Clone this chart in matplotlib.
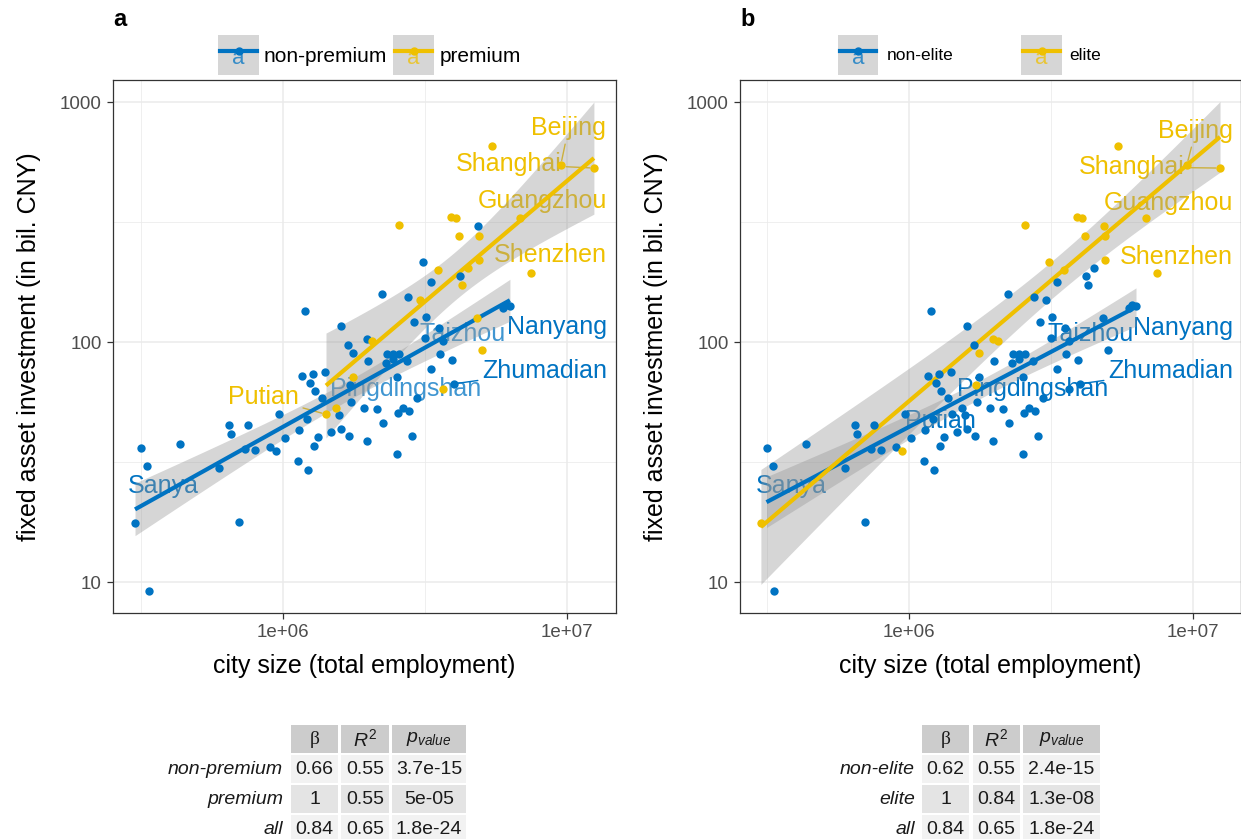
import matplotlib

matplotlib.use("Agg")
import matplotlib.pyplot as plt
import numpy as np
from matplotlib.lines import Line2D
from matplotlib.patches import Rectangle
from matplotlib.ticker import FixedLocator, NullFormatter

plt.rcParams["font.family"] = ["Liberation Sans", "DejaVu Sans"]
plt.rcParams["mathtext.fontset"] = "custom"
plt.rcParams["mathtext.it"] = "Liberation Sans:italic"
plt.rcParams["mathtext.rm"] = "Liberation Sans"

W, H = 1241, 839
BLUE, YELLOW = "#0073C2", "#EFC000"
RIBBON = "#999999"

# --- cities: total employment (millions), fixed asset investment (bil. CNY)
employment_m = [
    0.315, 0.333, 0.434, 0.301, 0.336, 0.698, 0.594, 0.647, 0.656, 0.755,
    0.735, 0.797, 0.900, 0.945, 0.970, 1.014, 1.132, 1.228, 1.141, 1.212,
    1.286, 1.331, 1.164, 1.278, 1.409, 1.245, 1.296, 1.372, 1.195, 1.472,
    1.597, 1.575, 1.712, 1.981, 1.730, 1.932, 2.148, 2.255, 2.514, 2.839,
    2.547, 2.652, 2.778, 2.956, 2.514, 1.721, 1.764, 1.698, 1.601, 1.970,
    1.997, 2.318, 2.433, 2.568, 2.305, 2.433, 2.740, 2.232, 2.755, 2.892,
    3.180, 3.542, 3.162, 3.650, 3.572, 3.946, 3.312, 4.010, 6.10, 6.30,
    5.94, 3.119, 3.312, 4.190, 4.873,
    1.417, 1.537, 1.760, 2.053, 3.668, 3.037, 4.809, 5.008, 3.523, 4.493,
    4.898, 4.258, 7.45, 2.568, 3.895, 4.065, 4.177, 4.898, 6.83, 5.457,
    9.52, 12.45,
]
investment_bn = [
    36.3, 30.4, 37.5, 17.6, 9.17, 17.8, 29.8, 45.1, 41.2, 45.1,
    35.7, 35.4, 36.5, 35.2, 50.0, 39.9, 31.9, 29.2, 43.1, 47.6,
    36.9, 40.2, 72.4, 73.3, 74.8, 67.5, 62.5, 58.6, 135.0, 42.3,
    43.4, 49.5, 40.5, 38.7, 56.2, 53.1, 52.7, 46.0, 34.2, 40.6,
    50.6, 53.3, 51.6, 58.2, 71.5, 66.0, 89.7, 97.2, 116.6, 102.6,
    83.3, 88.9, 88.9, 88.9, 82.0, 84.7, 83.3, 158.9, 153.6, 121.5,
    127.1, 114.4, 103.6, 101.0, 88.9, 84.4, 77.2, 67.0, 142.6, 140.8,
    138.9, 216.2, 177.8, 188.9, 303.5,
    50.0, 52.9, 71.7, 101.0, 63.9, 149.2, 125.5, 92.3, 199.0, 204.0,
    219.0, 172.3, 194.3, 307.3, 332.7, 327.6, 276.5, 276.5, 329.6, 655.5,
    549.0, 530.9,
]
is_premium = [0] * 75 + [1] * 22
is_elite = (
    [0, 0, 0, 1, 0, 0, 0, 0, 0, 0, 0, 0, 0, 1, 0, 0, 0, 0, 0, 0,
     0, 0, 0, 0, 0, 0, 0, 0, 0, 0, 0, 0, 0, 0, 0, 0, 0, 0, 0, 0,
     0, 0, 0, 0, 0, 1, 1, 0, 0, 1, 0, 0, 0, 0, 0, 0, 0, 0, 0, 0,
     0, 0, 0, 0, 0, 0, 0, 0, 0, 0, 0, 1, 0, 0, 1]
    + [0, 0, 0, 1, 0, 0, 0, 0, 1, 0, 1, 0, 1, 1, 1, 1, 1, 1, 1, 1, 1, 1]
)
named = {"Zhumadian": 67, "Putian": 75, "Beijing": 95, "Shanghai": 96}

emp = np.array(employment_m) * 1e6
inv = np.array(investment_bn)

# scaling-law summary tables
rows_a = ["non-premium", "premium", "all"]
beta_a = ["0.66", "1", "0.84"]
r2_a = ["0.55", "0.55", "0.65"]
p_a = ["3.7e-15", "5e-05", "1.8e-24"]
rows_b = ["non-elite", "elite", "all"]
beta_b = ["0.62", "1", "0.84"]
r2_b = ["0.55", "0.84", "0.65"]
p_b = ["2.4e-15", "1.3e-08", "1.8e-24"]


def t_quantile(df, z=1.959964):
    # Cornish-Fisher expansion of Student's t 97.5% quantile
    return (z + (z**3 + z) / (4 * df)
            + (5 * z**5 + 16 * z**3 + 3 * z) / (96 * df**2)
            + (3 * z**7 + 19 * z**5 + 17 * z**3 - 15 * z) / (384 * df**3))


def lm_band(x, y, n_grid=80):
    lx, ly = np.log10(x), np.log10(y)
    n = len(lx)
    slope, icept = np.polyfit(lx, ly, 1)
    resid = ly - (icept + slope * lx)
    s = np.sqrt(resid @ resid / (n - 2))
    gx = np.linspace(lx.min(), lx.max(), n_grid)
    se = s * np.sqrt(1 / n + (gx - lx.mean()) ** 2 / ((lx - lx.mean()) ** 2).sum())
    fit = icept + slope * gx
    t = t_quantile(n - 2)
    return 10**gx, 10**fit, 10**(fit - t * se), 10**(fit + t * se)


def fpos(x, y):
    return x / W, 1 - y / H


fig = plt.figure(figsize=(W / 100, H / 100), dpi=100)


def panel(box, xlog, flag, labels):
    x0, x1, y0, y1 = box
    ax = fig.add_axes([x0 / W, 1 - y1 / H, (x1 - x0) / W, (y1 - y0) / H])
    ax.set_xscale("log")
    ax.set_yscale("log")
    ax.set_xlim(10 ** xlog[0], 10 ** xlog[1])
    ax.set_ylim(10**0.871, 10**3.092)
    ax.xaxis.set_major_locator(FixedLocator([1e6, 1e7]))
    ax.xaxis.set_minor_locator(FixedLocator([10**5.5, 10**6.5]))
    ax.yaxis.set_major_locator(FixedLocator([10, 100, 1000]))
    ax.yaxis.set_minor_locator(FixedLocator([10**1.5, 10**2.5]))
    ax.set_xticklabels(["1e+06", "1e+07"])
    ax.set_yticklabels(["10", "100", "1000"])
    ax.xaxis.set_minor_formatter(NullFormatter())
    ax.yaxis.set_minor_formatter(NullFormatter())
    ax.tick_params(which="major", length=4, width=0.9, color="#333333",
                   labelsize=13.5, labelcolor="#4d4d4d", pad=4)
    ax.tick_params(which="minor", length=0)
    ax.grid(which="major", color="#ebebeb", lw=1.1, zorder=0)
    ax.grid(which="minor", color="#ebebeb", lw=0.55, zorder=0)
    ax.set_axisbelow(True)
    for sp in ax.spines.values():
        sp.set_color("#333333")
        sp.set_linewidth(0.9)
    ax.set_xlabel("city size (total employment)", fontsize=18, labelpad=9)
    ax.set_ylabel("fixed asset investment (in bil. CNY)", fontsize=18,
                  labelpad=14)

    grp = np.array(flag, bool)
    for mask, color in ((~grp, BLUE), (grp, YELLOW)):
        gx, fit, lo, hi = lm_band(emp[mask], inv[mask])
        ax.fill_between(gx, lo, hi, color=RIBBON, alpha=0.4, lw=0, zorder=2)
        ax.plot(gx, fit, color=color, lw=3, zorder=3, solid_capstyle="butt")
    for mask, color in ((~grp, BLUE), (grp, YELLOW)):
        ax.scatter(emp[mask], inv[mask], s=36, color=color, lw=0, zorder=4)

    for name, px, py, ha, yellow, alpha in labels:
        color = YELLOW if yellow else BLUE
        kw = dict(xytext=(px, H - py), textcoords="figure pixels", ha=ha,
                  va="center", fontsize=18, color=color, alpha=alpha,
                  zorder=1.5)
        if name in named:
            i = named[name]
            ax.annotate(name, xy=(emp[i], inv[i]), xycoords="data",
                        arrowprops=dict(arrowstyle="-", color=color, lw=1.0,
                                        alpha=alpha, shrinkA=1, shrinkB=3),
                        **kw)
        else:
            ax.annotate(name, xy=(px, H - py), xycoords="figure pixels", **kw)
    return ax


labels_a = [
    ("Beijing", 606, 128, "right", 1, 1.0),
    ("Shanghai", 562, 164, "right", 1, 1.0),
    ("Guangzhou", 607, 201, "right", 1, 1.0),
    ("Shenzhen", 607, 255, "right", 1, 1.0),
    ("Nanyang", 607, 327, "right", 0, 1.0),
    ("Taizhou", 420, 334, "left", 0, 0.75),
    ("Zhumadian", 607, 371, "right", 0, 1.0),
    ("Pingdingshan", 330, 389, "left", 0, 0.75),
    ("Putian", 228, 397, "left", 1, 1.0),
    ("Sanya", 128, 486, "left", 0, 1.0),
]
labels_b = [
    ("Beijing", 1233, 131, "right", 1, 1.0),
    ("Shanghai", 1079, 167, "left", 1, 1.0),
    ("Guangzhou", 1233, 203, "right", 1, 1.0),
    ("Shenzhen", 1233, 257, "right", 1, 1.0),
    ("Nanyang", 1233, 328, "right", 0, 1.0),
    ("Taizhou", 1048, 334, "left", 0, 1.0),
    ("Zhumadian", 1233, 371, "right", 0, 1.0),
    ("Pingdingshan", 957, 389, "left", 0, 1.0),
    ("Putian", 905, 421, "left", 0, 1.0),
    ("Sanya", 756, 486, "left", 0, 1.0),
]

panel((113, 616, 80, 613), (5.401, 7.173), is_premium, labels_a)
# Putian carries no leader line in the elite panel
named.pop("Putian")
panel((740, 1241, 80, 613), (5.405, 7.169), is_elite, labels_b)


def legend_key(x0, x1, color):
    fig.add_artist(Rectangle(fpos(x0, 75), (x1 - x0) / W, 40 / H,
                             transform=fig.transFigure, facecolor="#d6d6d6",
                             edgecolor="none"))
    fig.add_artist(Line2D([(x0 + 2) / W, (x1 - 2) / W], [1 - 51 / H] * 2,
                          color=color, lw=3, transform=fig.transFigure))
    fig.add_artist(Line2D([(x0 + x1) / 2 / W], [1 - 51 / H], marker="o", ms=5,
                          color=color, transform=fig.transFigure))
    fig.text((x0 + x1) / 2 / W, 1 - 59 / H, "a", color=color, alpha=0.75,
             fontsize=16, ha="center", va="center")


legend_key(218, 259, BLUE)
fig.text(*fpos(264, 56), "non-premium", fontsize=15, va="center")
legend_key(393, 434, YELLOW)
fig.text(*fpos(440, 56), "premium", fontsize=15, va="center")
legend_key(838, 878, BLUE)
fig.text(*fpos(887, 55), "non-elite", fontsize=12.5, va="center")
legend_key(1021, 1062, YELLOW)
fig.text(*fpos(1069, 55), "elite", fontsize=12.5, va="center")

fig.text(*fpos(113, 20), "a", fontsize=17, fontweight="bold", va="center")
fig.text(*fpos(740, 20), "b", fontsize=17, fontweight="bold", va="center")


def stats_table(label_right, cols, rows, beta, r2, pval):
    heads = ["β", r"$R^2$", r"$p_{value}$"]
    tops = [725, 755, 785, 815]
    fills = ["#cccccc", "#f2f2f2", "#e4e4e4", "#f2f2f2"]
    body = [beta, r2, pval]
    for r, top in enumerate(tops):
        cy = top + 14
        for c, (cx0, cx1) in enumerate(cols):
            fig.add_artist(Rectangle(fpos(cx0, top + 28), (cx1 - cx0) / W,
                                     28 / H, transform=fig.transFigure,
                                     facecolor=fills[r], edgecolor="none"))
            if r == 0:
                txt = heads[c]
                fam = ["Liberation Serif"] if c == 0 else None
                fig.text(*fpos((cx0 + cx1) / 2, cy), txt, fontsize=14,
                         ha="center", va="center", color="#1a1a1a",
                         family=fam)
            else:
                fig.text(*fpos((cx0 + cx1) / 2, cy), body[c][r - 1],
                         fontsize=14, ha="center", va="center",
                         color="#1a1a1a")
        if r > 0:
            fig.text(*fpos(label_right, cy), rows[r - 1], fontsize=14,
                     ha="right", va="center", style="italic", color="#1a1a1a")


stats_table(283, [(291, 338), (341, 389), (392, 466)], rows_a, beta_a, r2_a, p_a)
stats_table(915, [(922, 969), (973, 1020), (1023, 1100)], rows_b, beta_b, r2_b,
            p_b)

fig.savefig("out.png", dpi=100)
